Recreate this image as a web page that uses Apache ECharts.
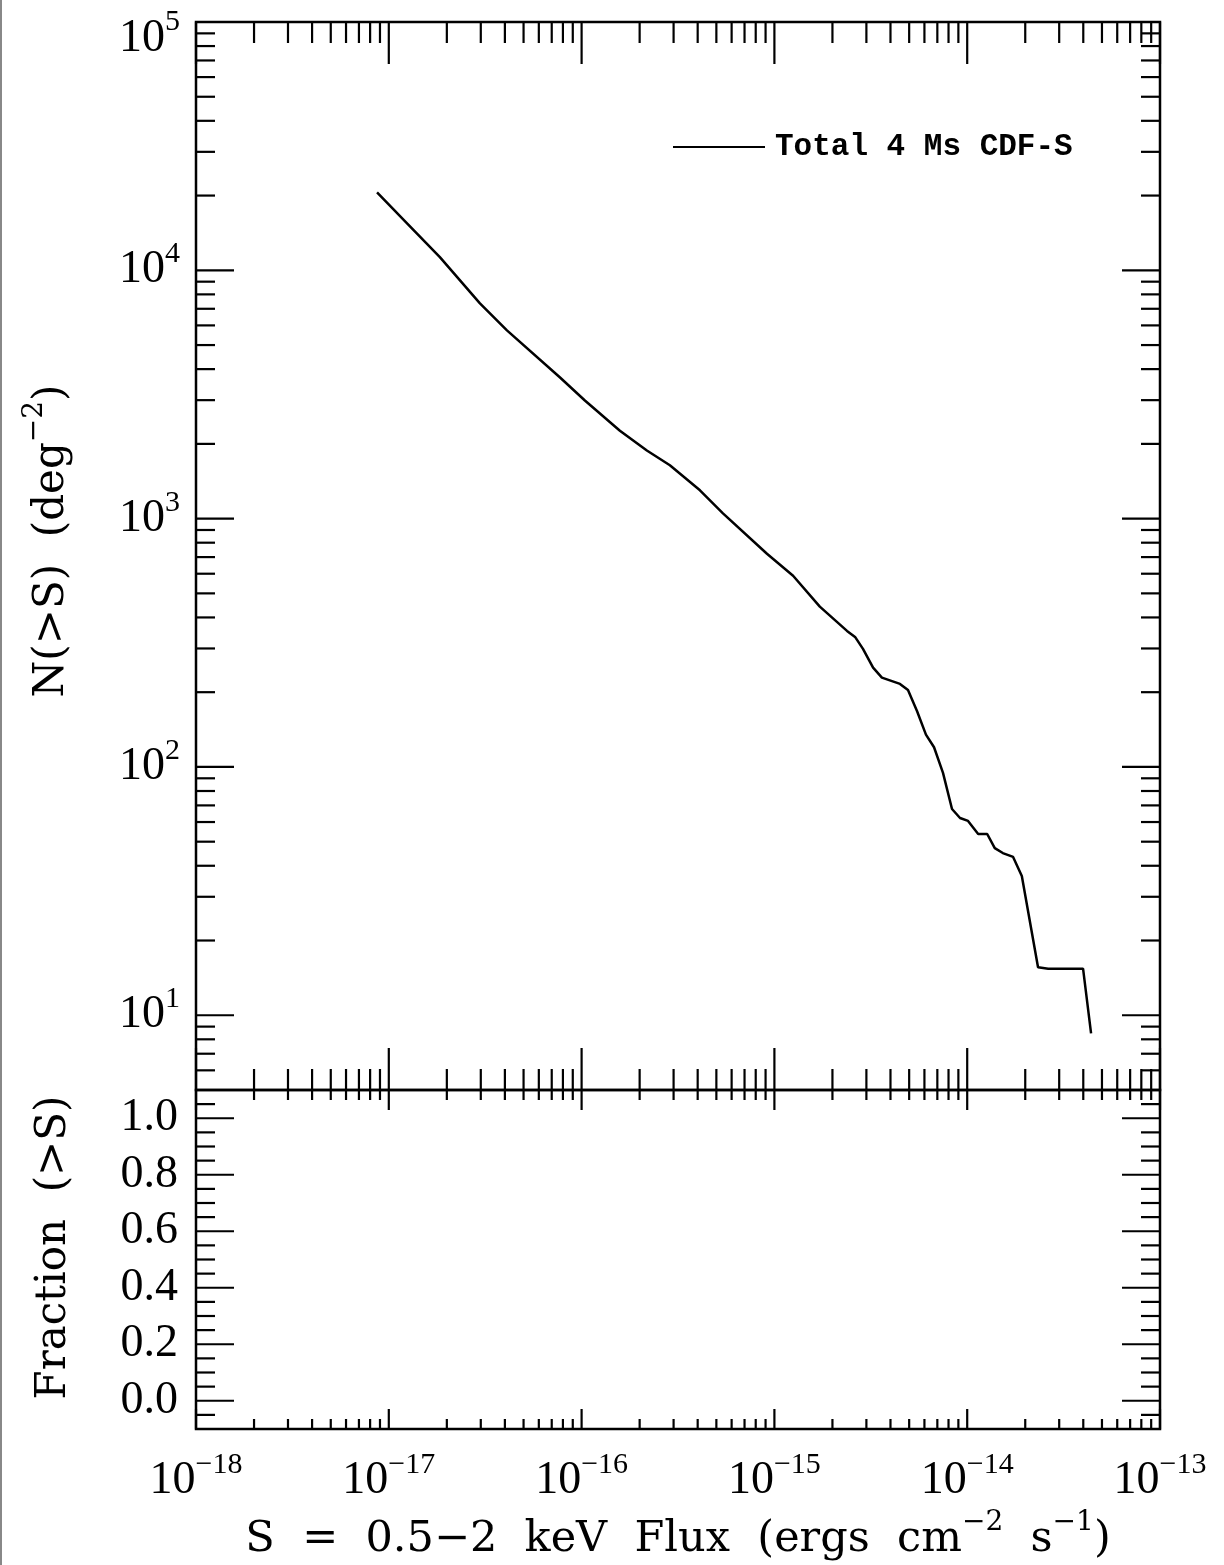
<!DOCTYPE html>
<html><head><meta charset="utf-8">
<script src="https://cdn.jsdelivr.net/npm/echarts@6/dist/echarts.min.js"></script>
<style>html,body{margin:0;padding:0;background:#fff}#c{width:1224px;height:1565px}</style>
</head><body><div id="c"></div>
<script>
// ---- data ----
const seriesName = 'Total 4 Ms CDF-S';
const fluxS = [8.69e-18, 1.24e-17, 1.84e-17, 2.97e-17, 4.10e-17, 7.73e-17, 1.04e-16, 1.58e-16,
  2.18e-16, 2.87e-16, 4.11e-16, 5.41e-16, 9.15e-16, 1.25e-15, 1.72e-15, 2.38e-15, 2.62e-15,
  2.88e-15, 3.25e-15, 3.61e-15, 4.48e-15, 4.93e-15, 5.49e-15, 6.11e-15, 6.73e-15, 7.49e-15,
  8.34e-15, 9.18e-15, 1.01e-14, 1.14e-14, 1.27e-14, 1.39e-14, 1.53e-14, 1.73e-14, 1.92e-14,
  2.33e-14, 2.63e-14, 3.99e-14, 4.39e-14];
const nCounts = [20600, 15500, 11300, 7360, 5730, 3700, 2990, 2260, 1880, 1640, 1300, 1050,
  722, 589, 442, 353, 334, 299, 251, 229, 216, 204, 168, 135, 120, 94.6, 67.7, 62.3, 60.6,
  53.7, 53.7, 47.1, 45.0, 43.4, 36.4, 15.6, 15.4, 15.4, 8.46];

// ---- axes / ticks ----
const xDecades = [-18, -17, -16, -15, -14, -13];     // labelled x ticks (powers of ten)
const yDecades = [1, 2, 3, 4, 5];                     // labelled y ticks, top panel
const fracLabels = ['0.0', '0.2', '0.4', '0.6', '0.8', '1.0'];
const minorMantissas = [2, 3, 4, 5, 6, 7, 8, 9];
const xRange = [1e-18, 1e-13];
const yRangeTop = [5, 1e5];
const yRangeBot = [-0.1, 1.1];

const xMajor = xDecades.map(e => Math.pow(10, e));
const xMinor = [];
xDecades.slice(0, -1).forEach(e => minorMantissas.forEach(m => xMinor.push(m * Math.pow(10, e))));
const yMajorTop = yDecades.slice(0, -1).map(e => Math.pow(10, e));
const yMinorTop = [];
[0, 1, 2, 3, 4].forEach(e => minorMantissas.forEach(m => {
  const v = m * Math.pow(10, e); if (v > yRangeTop[0] && v < yRangeTop[1]) yMinorTop.push(v);
}));
const yMajorBot = fracLabels.map(Number);
const yMinorBot = [];
for (let k = -1; k <= 21; k++) { if (!(k >= 0 && k <= 20 && k % 4 === 0)) yMinorBot.push(+(k * 0.05).toFixed(2)); }

// tick items: [x, y, side(0 up,1 down,2 right,3 left), length]
const ticksTop = [], ticksBot = [];
xMinor.forEach(x => { ticksTop.push([x, yRangeTop[0], 0, 21], [x, yRangeTop[1], 1, 21]);
                      ticksBot.push([x, yRangeBot[1], 1, 10], [x, yRangeBot[0], 0, 10]); });
xMajor.forEach(x => { ticksTop.push([x, yRangeTop[0], 0, 42], [x, yRangeTop[1], 1, 42]);
                      ticksBot.push([x, yRangeBot[1], 1, 20], [x, yRangeBot[0], 0, 20]); });
yMinorTop.forEach(y => ticksTop.push([xRange[0], y, 2, 19], [xRange[1], y, 3, 19]));
yMajorTop.forEach(y => ticksTop.push([xRange[0], y, 2, 38], [xRange[1], y, 3, 38]));
yMinorBot.forEach(y => ticksBot.push([xRange[0], y, 2, 19], [xRange[1], y, 3, 19]));
yMajorBot.forEach(y => ticksBot.push([xRange[0], y, 2, 38], [xRange[1], y, 3, 38]));

function tickRender(params, api) {
  const p = api.coord([api.value(0), api.value(1)]);
  const side = api.value(2), len = api.value(3);
  const dx = side === 2 ? len : side === 3 ? -len : 0;
  const dy = side === 0 ? -len : side === 1 ? len : 0;
  return { type: 'line', shape: { x1: p[0], y1: p[1], x2: p[0] + dx, y2: p[1] + dy },
           style: { stroke: '#000', lineWidth: 2.2 } };
}

const SERIF = 'Liberation Serif';
const TITLE = 'DejaVu Serif';
const sup = e => (e < 0 ? '\u2212' + Math.abs(e) : String(e));
const labelRich = {
  b: { fontFamily: SERIF, fontSize: 46, lineHeight: 62, color: '#000' },
  s: { fontFamily: SERIF, fontSize: 30, lineHeight: 30, verticalAlign: 'top', color: '#000' },
  bt: { fontFamily: SERIF, fontSize: 46, lineHeight: 62, color: '#000', padding: [34, 0, 0, 0] },
  st: { fontFamily: SERIF, fontSize: 30, lineHeight: 30, verticalAlign: 'top', color: '#000', padding: [16, 0, 0, 0] }
};
const nameRich = { s: { fontFamily: TITLE, fontSize: 28, lineHeight: 28, verticalAlign: 'top', color: '#000' } };
const hidden = { axisLine: { show: false }, axisTick: { show: false }, splitLine: { show: false } };

const chart = echarts.init(document.getElementById('c'), null, { renderer: 'canvas' });
chart.setOption({
  backgroundColor: '#fff',
  animation: false,
  graphic: [{ type: 'rect', left: 0, top: 0, shape: { width: 2, height: 1565 }, style: { fill: '#888' }, silent: true }],
  legend: {
    data: [seriesName], left: 673, top: 121, padding: 0, icon: 'rect', itemWidth: 92, itemHeight: 2,
    selectedMode: false,
    textStyle: { fontFamily: 'Liberation Mono', fontWeight: 'bold', fontSize: 31, color: '#000', lineHeight: 30, padding: [0, 0, 22, 5] }
  },
  grid: [
    { left: 196, top: 22, width: 964, height: 1068, show: true, borderColor: '#000', borderWidth: 2.5, containLabel: false, outerBoundsMode: 'none' },
    { left: 196, top: 1090, width: 964, height: 339, show: true, borderColor: '#000', borderWidth: 2.5, containLabel: false, outerBoundsMode: 'none' }
  ],
  xAxis: [
    Object.assign({ type: 'log', gridIndex: 0, min: xRange[0], max: xRange[1], axisLabel: { show: false } }, hidden),
    Object.assign({ type: 'log', gridIndex: 1, min: xRange[0], max: xRange[1],
      axisLabel: { show: true, interval: 0, margin: 21, showMinLabel: true, showMaxLabel: true,
        fontFamily: SERIF, fontSize: 46, color: '#000', rich: labelRich,
        formatter: v => { const e = Math.round(Math.log10(v)); return xDecades.includes(e) ? '{b|10}{s|' + sup(e) + '}' : ''; } },
      name: 'S  =  0.5\u22122  keV  Flux  (ergs  cm{s|\u22122}  s{s|\u22121})', nameLocation: 'middle', nameGap: 80,
      nameTextStyle: { fontFamily: TITLE, fontSize: 43, lineHeight: 62, color: '#000', rich: nameRich } }, hidden)
  ],
  yAxis: [
    Object.assign({ type: 'log', gridIndex: 0, min: yRangeTop[0], max: yRangeTop[1],
      axisLabel: { show: true, interval: 0, margin: 16, showMinLabel: true, showMaxLabel: true,
        fontFamily: SERIF, fontSize: 46, color: '#000', rich: labelRich,
        formatter: v => { const l = Math.log10(v), e = Math.round(l);
          if (Math.abs(l - e) > 1e-6 || !yDecades.includes(e)) return '';
          return e === 5 ? '{bt|10}{st|' + sup(e) + '}' : '{b|10}{s|' + sup(e) + '}'; } },
      name: 'N(>S)  (deg{s|\u22122})', nameLocation: 'middle', nameGap: 113, nameRotate: 90,
      nameTextStyle: { fontFamily: TITLE, fontSize: 42, lineHeight: 62, color: '#000', padding: [0, 0, 0, 30], rich: nameRich } }, hidden),
    Object.assign({ type: 'value', gridIndex: 1, min: yRangeBot[0], max: yRangeBot[1], interval: 0.1,
      axisLabel: { show: true, interval: 0, margin: 18, fontFamily: SERIF, fontSize: 46, color: '#000',
        formatter: v => { const s = (Math.round(v * 10) / 10).toFixed(1); return fracLabels.includes(s) ? s : ''; } },
      name: 'Fraction  (>S)', nameLocation: 'middle', nameGap: 111, nameRotate: 90,
      nameTextStyle: { fontFamily: TITLE, fontSize: 42, lineHeight: 62, color: '#000', padding: [0, 0, 0, 24] } }, hidden)
  ],
  series: [
    { name: seriesName, type: 'line', xAxisIndex: 0, yAxisIndex: 0, showSymbol: false, symbol: 'none',
      data: fluxS.map((s, i) => [s, nCounts[i]]), itemStyle: { color: '#000' },
      lineStyle: { color: '#000', width: 2.5 }, silent: true, z: 3 },
    { type: 'custom', xAxisIndex: 0, yAxisIndex: 0, renderItem: tickRender, data: ticksTop, silent: true, clip: false, z: 4 },
    { type: 'custom', xAxisIndex: 1, yAxisIndex: 1, renderItem: tickRender, data: ticksBot, silent: true, clip: false, z: 4 }
  ]
});
</script></body></html>
